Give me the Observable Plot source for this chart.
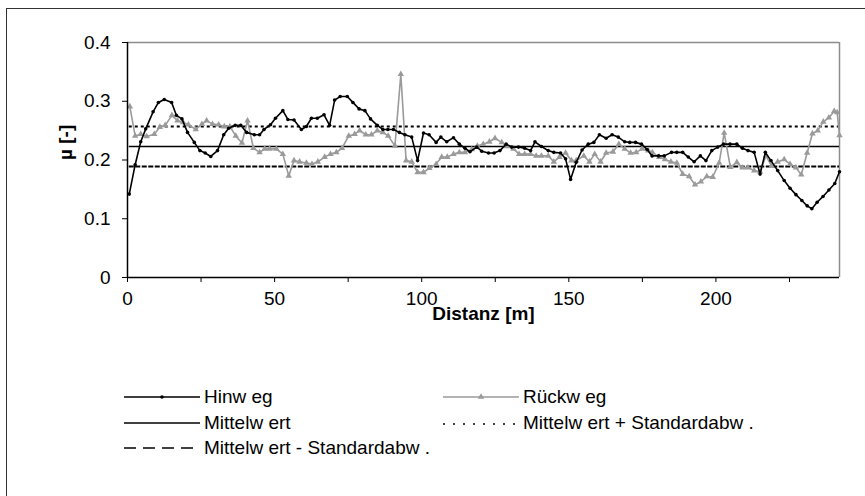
<!DOCTYPE html>
<html>
<head>
<meta charset="utf-8">
<script src="https://cdn.jsdelivr.net/npm/d3@7"></script>
<script src="https://cdn.jsdelivr.net/npm/@observablehq/plot@0.6"></script>
<style>
  html, body { margin: 0; padding: 0; background: #fff; overflow: hidden; }
  body { width: 865px; height: 496px; position: relative; font-family: "Liberation Sans", Arial, sans-serif; }
  #frame { position: absolute; left: 6px; top: 8px; width: 1000px; height: 700px; border: 1.5px solid #333; box-sizing: border-box; }
  #chart { position: absolute; left: 0; top: 0; }
  .leg { position: absolute; display: flex; align-items: center; font-size: 19px; color: #000; white-space: pre; }
  .leg svg { margin-right: 4px; }
</style>
</head>
<body>
<div id="frame"></div>
<div id="chart"></div>
<div id="legend"></div>
<script>
// Reibwert entlang der Messstrecke, Hin- und Rückweg
const hinwegDist = [0.6, 2.6, 4.5, 6.2, 8.7, 10.5, 12.5, 15, 16.6, 18.5, 20.4, 22.7, 24.6, 26.4, 28.3, 30.6, 32.7, 34.4, 36.6, 38.5,
  40.5, 43.1, 44.9, 46.4, 48.6, 50.3, 52.8, 54.5, 56.6, 59.1, 60.8, 62.5, 64.5, 66.8, 68.7, 70.4, 72.3, 74.7, 76.6, 78.7,
  80.7, 82.6, 84.9, 86.8, 88.5, 90.4, 92.4, 94.3, 96.6, 98.6, 100.6, 102.5, 104.9, 106.5, 108.5, 110.8, 112.8, 114.7, 116.4, 118.7,
  120.4, 122.7, 124.6, 126.6, 128.7, 130.6, 132.9, 135, 137, 138.5, 140.7, 143, 144.9, 147.2, 148.9, 150.6, 152.5, 154.5, 156.6, 158.5,
  160.4, 162.7, 164.7, 166.8, 169, 170.7, 172.7, 174.7, 176.6, 178.3, 180.5, 182.4, 184.9, 186.7, 188.7, 190.6, 192.6, 194.7, 196.6, 198.6,
  200.6, 202.6, 204.8, 207.1, 209, 210.9, 213, 215, 216.8, 218.7, 221, 223.2, 225.2, 227.2, 229.2, 231, 232.6, 234.4, 236.4, 238.4,
  240.4, 242];
const hinwegMu = [0.142, 0.192, 0.231, 0.253, 0.282, 0.298, 0.303, 0.298, 0.276, 0.270, 0.247, 0.230, 0.216, 0.212, 0.206, 0.216, 0.243, 0.254, 0.259, 0.259,
  0.247, 0.243, 0.243, 0.252, 0.260, 0.271, 0.284, 0.269, 0.268, 0.252, 0.257, 0.271, 0.271, 0.277, 0.259, 0.302, 0.308, 0.308, 0.298, 0.287,
  0.284, 0.270, 0.259, 0.252, 0.252, 0.252, 0.247, 0.243, 0.239, 0.199, 0.246, 0.243, 0.230, 0.239, 0.231, 0.238, 0.227, 0.220, 0.214, 0.222,
  0.215, 0.212, 0.212, 0.216, 0.227, 0.222, 0.222, 0.220, 0.216, 0.231, 0.223, 0.216, 0.213, 0.212, 0.202, 0.167, 0.196, 0.217, 0.227, 0.230,
  0.243, 0.237, 0.243, 0.239, 0.231, 0.230, 0.230, 0.227, 0.218, 0.207, 0.207, 0.207, 0.213, 0.213, 0.213, 0.205, 0.197, 0.207, 0.199, 0.216,
  0.222, 0.227, 0.227, 0.227, 0.220, 0.216, 0.213, 0.176, 0.213, 0.199, 0.182, 0.165, 0.152, 0.141, 0.131, 0.122, 0.117, 0.128, 0.138, 0.149,
  0.160, 0.180];

const rueckwegDist = [0.8, 2.6, 4.5, 6.5, 9.1, 11, 12.8, 15.1, 17, 18.9, 20.7, 23.2, 25.3, 26.9, 28.9, 31, 32.9, 34.8, 36.8, 38.9,
  40.8, 42.8, 44.9, 46.6, 48.3, 50.6, 52.8, 54.8, 56.6, 58.5, 60.8, 62.7, 64.7, 67, 69, 71, 72.9, 75.2, 77.2, 78.9,
  81, 82.9, 84.9, 86.8, 88.6, 90.9, 92.9, 94.7, 96.6, 98.6, 100.6, 102.6, 104.9, 106.8, 108.7, 110.8, 112.8, 114.7, 117, 118.9,
  120.9, 123, 124.9, 127.2, 129.1, 131.2, 133.1, 135, 137, 138.9, 140.7, 143, 144.9, 146.8, 148.9, 150.9, 152.5, 155.1, 157, 158.8,
  160.8, 162.7, 165, 167, 169, 171, 172.9, 174.9, 177, 178.4, 180.7, 182.7, 184.7, 186.7, 188.7, 190.9, 192.9, 194.9, 196.9, 198.9,
  201.1, 202.8, 204.9, 207.1, 209, 210.9, 213, 215, 217, 218.9, 221, 223.2, 225.2, 227.2, 229, 231, 232.8, 234.6, 236.5, 238.4,
  240.2, 241.2, 242];
const rueckwegMu = [0.291, 0.241, 0.244, 0.240, 0.244, 0.256, 0.259, 0.276, 0.267, 0.264, 0.260, 0.252, 0.261, 0.267, 0.261, 0.260, 0.257, 0.257, 0.241, 0.229,
  0.267, 0.220, 0.213, 0.219, 0.219, 0.219, 0.210, 0.173, 0.199, 0.197, 0.195, 0.193, 0.197, 0.205, 0.210, 0.213, 0.220, 0.241, 0.244, 0.250,
  0.243, 0.243, 0.250, 0.247, 0.241, 0.224, 0.346, 0.199, 0.197, 0.179, 0.179, 0.186, 0.193, 0.205, 0.205, 0.210, 0.213, 0.213, 0.218, 0.224,
  0.227, 0.231, 0.237, 0.230, 0.223, 0.219, 0.210, 0.210, 0.210, 0.207, 0.207, 0.207, 0.197, 0.205, 0.212, 0.199, 0.199, 0.207, 0.197, 0.210,
  0.197, 0.212, 0.214, 0.227, 0.219, 0.212, 0.213, 0.219, 0.216, 0.213, 0.205, 0.201, 0.197, 0.195, 0.176, 0.172, 0.158, 0.163, 0.172, 0.171,
  0.195, 0.246, 0.188, 0.196, 0.187, 0.187, 0.182, 0.180, 0.207, 0.190, 0.197, 0.201, 0.193, 0.187, 0.175, 0.212, 0.245, 0.250, 0.265, 0.272,
  0.283, 0.281, 0.242];

const mittelwert = 0.223;
const standardabw = 0.034;

const xTicks = [0, 25, 50, 75, 100, 125, 150, 175, 200, 225];
const xLabelTicks = [0, 50, 100, 150, 200];
const yTicks = [0, 0.1, 0.2, 0.3, 0.4];

const xLabel = "Distanz [m]";
const yLabel = "µ [-]";
const legendLabels = ["Hinw eg", "Rückw eg", "Mittelw ert", "Mittelw ert + Standardabw .", "Mittelw ert - Standardabw ."];

const hinweg = hinwegDist.map((d, i) => ({d, mu: hinwegMu[i]}));
const rueckweg = rueckwegDist.map((d, i) => ({d, mu: rueckwegMu[i]}));
const xStart = hinwegDist[0];
const xEnd = 242;
const grey = "#9a9a9a";

const chart = Plot.plot({
  width: 865,
  height: 340,
  marginLeft: 127,
  marginRight: 26,
  marginTop: 42,
  marginBottom: 63,
  style: {fontFamily: "'Liberation Sans', Arial, sans-serif", fontSize: "19px", background: "transparent", overflow: "visible"},
  x: {domain: [0, xEnd]},
  y: {domain: [0, 0.4]},
  marks: [
    // Rahmen der Zeichenfläche
    Plot.ruleY([0.4], {stroke: "#8c8c8c", strokeWidth: 1.5}),
    Plot.ruleX([xEnd], {stroke: "#8c8c8c", strokeWidth: 1.5}),
    // Mittelwert und Streubereich
    Plot.ruleY([mittelwert + standardabw], {x1: xStart, x2: xEnd, stroke: "black", strokeWidth: 2, strokeDasharray: "3,3"}),
    Plot.ruleY([mittelwert - standardabw], {x1: xStart, x2: xEnd, stroke: "black", strokeWidth: 2, strokeDasharray: "5,1.5"}),
    Plot.ruleY([mittelwert], {x1: xStart, x2: xEnd, stroke: "black", strokeWidth: 1.6}),
    // Messreihen
    Plot.line(rueckweg, {x: "d", y: "mu", stroke: grey, strokeWidth: 1.6}),
    Plot.dot(rueckweg, {x: "d", y: "mu", symbol: "triangle", r: 2.4, fill: grey, stroke: null}),
    Plot.line(hinweg, {x: "d", y: "mu", stroke: "black", strokeWidth: 1.6}),
    Plot.dot(hinweg, {x: "d", y: "mu", r: 1.8, fill: "black", stroke: null}),
    // Achsen
    Plot.axisX({ticks: xTicks, tickSize: 5, tickPadding: 9, tickFormat: d => xLabelTicks.includes(d) ? String(d) : "", label: null}),
    Plot.axisY({ticks: yTicks, tickSize: 5, tickPadding: 12, tickFormat: d => d === 0 ? "0" : d.toFixed(1), label: null}),
    Plot.ruleX([0], {stroke: "black", strokeWidth: 1.5}),
    Plot.ruleY([0], {stroke: "black", strokeWidth: 1.5}),
    Plot.text([xLabel], {frameAnchor: "bottom", dy: 36, fontWeight: "bold", fontSize: 19, lineAnchor: "middle"}),
    Plot.text([yLabel], {frameAnchor: "left", dx: -62, rotate: -90, fontWeight: "bold", fontSize: 19, lineAnchor: "middle"})
  ]
});
document.getElementById("chart").appendChild(chart);

// Legende
const legend = document.getElementById("legend");
function sample(kind) {
  const w = 76, h = 12, y = 6;
  let s = `<svg width="${w}" height="${h}">`;
  if (kind === 0) s += `<line x1="0" y1="${y}" x2="${w}" y2="${y}" stroke="black" stroke-width="1.5"/><circle cx="${w/2}" cy="${y}" r="1.8" fill="black"/>`;
  if (kind === 1) s += `<line x1="0" y1="${y}" x2="${w}" y2="${y}" stroke="${grey}" stroke-width="1.5"/><path d="${d3.symbol(d3.symbolTriangle, 18)()}" transform="translate(${w/2},${y})" fill="${grey}"/>`;
  if (kind === 2) s += `<line x1="0" y1="${y}" x2="${w}" y2="${y}" stroke="black" stroke-width="1.5"/>`;
  if (kind === 3) s += `<line x1="0" y1="${y + 1}" x2="${w}" y2="${y + 1}" stroke="black" stroke-width="1.5" stroke-dasharray="2,8"/>`;
  if (kind === 4) s += `<line x1="0" y1="${y}" x2="${w}" y2="${y}" stroke="black" stroke-width="1.5" stroke-dasharray="12,7"/>`;
  return s + "</svg>";
}
const legendPos = [[124, 397], [443, 397], [124, 423], [443, 423], [124, 448]];
legendLabels.forEach((label, i) => {
  const el = document.createElement("div");
  el.className = "leg";
  el.style.left = legendPos[i][0] + "px";
  el.style.top = (legendPos[i][1] - 11) + "px";
  el.style.height = "22px";
  el.innerHTML = sample(i) + `<span>${label}</span>`;
  legend.appendChild(el);
});
</script>
</body>
</html>
